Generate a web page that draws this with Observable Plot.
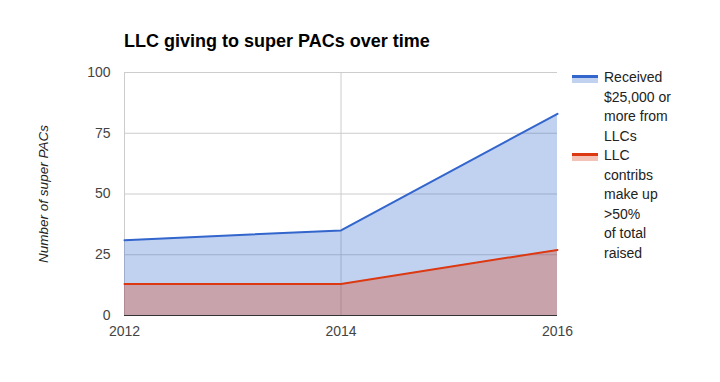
<!DOCTYPE html>
<html><head><meta charset="utf-8">
<script src="https://cdn.jsdelivr.net/npm/d3@7"></script>
<script src="https://cdn.jsdelivr.net/npm/@observablehq/plot@0.6"></script>
<style>
body{margin:0;background:#fff;font-family:"Liberation Sans",Arial,sans-serif;}
#wrap{position:relative;width:720px;height:382px;}
#title{position:absolute;left:124px;top:31px;font-size:18px;font-weight:bold;color:#000;}
#legend{position:absolute;left:572px;top:68px;font-size:14px;color:#222;line-height:19.5px;}
.item{display:flex;align-items:flex-start;}
.sw{width:26px;height:7px;margin-top:7px;margin-right:6px;position:relative;}
.sw .ln{position:absolute;left:0;right:0;top:0;height:3px;}
.sw .ar{position:absolute;left:0;right:0;top:3px;height:5px;}
</style></head>
<body><div id="wrap"><div id="title">LLC giving to super PACs over time</div><div id="legend"></div></div>
<script>
const years = [2012, 2014, 2016];
const received25k = [31, 35, 83];
const majorityLLC = [13, 13, 27];
const seriesNames = ["Received\n$25,000 or\nmore from\nLLCs", "LLC\ncontribs\nmake up\n>50%\nof total\nraised"];
const seriesColors = ["#3366cc", "#dc3912"];
const yTicks = [0, 25, 50, 75, 100];

const rows = years.map((y, i) => ({year: y, value: received25k[i]}));
const rows2 = years.map((y, i) => ({year: y, value: majorityLLC[i]}));

const plot = Plot.plot({
  width: 720, height: 382,
  marginLeft: 124, marginRight: 163, marginTop: 72, marginBottom: 67,
  style: {fontFamily: "Liberation Sans, Arial, sans-serif", fontSize: "14px", color: "#444", background: "transparent"},
  x: {domain: [2012, 2016], label: null},
  y: {domain: [0, 100], label: null},
  marks: [
    Plot.gridY(yTicks.slice(1), {stroke: "#ccc", strokeOpacity: 1}),
    Plot.gridX([2014], {stroke: "#ccc", strokeOpacity: 1}),
    Plot.ruleX([2012], {stroke: "#ccc"}),
    Plot.areaY(rows, {x: "year", y: "value", fill: seriesColors[0], fillOpacity: 0.3}),
    Plot.areaY(rows2, {x: "year", y: "value", fill: seriesColors[1], fillOpacity: 0.3}),
    Plot.ruleY([0], {stroke: "#333"}),
    Plot.lineY(rows, {x: "year", y: "value", stroke: seriesColors[0], strokeWidth: 2}),
    Plot.lineY(rows2, {x: "year", y: "value", stroke: seriesColors[1], strokeWidth: 2}),
    Plot.axisX({ticks: years, tickFormat: d => String(d), tickSize: 0, tickPadding: 11, fill: "#444", fontSize: 14, label: null}),
    Plot.axisY({ticks: yTicks, tickSize: 0, tickPadding: 14, fill: "#444", fontSize: 14, label: null}),
    Plot.text(["Number of super PACs"], {frameAnchor: "left", textAnchor: "middle", dx: -81, rotate: -90, fontStyle: "italic", fontSize: 13.5, fill: "#222"})
  ]
});
document.getElementById("wrap").prepend(plot);
plot.style.position = "absolute"; plot.style.left = "0"; plot.style.top = "0";

const leg = document.getElementById("legend");
seriesNames.forEach((n, i) => {
  const it = document.createElement("div");
  it.className = "item";
  it.innerHTML = `<div class="sw"><div class="ar" style="background:${seriesColors[i]};opacity:0.3"></div><div class="ln" style="background:${seriesColors[i]}"></div></div><div>${n.replace(/&/g,"&amp;").replace(/>/g,"&gt;").split("\n").join("<br>")}</div>`;
  leg.appendChild(it);
});
</script></body></html>
